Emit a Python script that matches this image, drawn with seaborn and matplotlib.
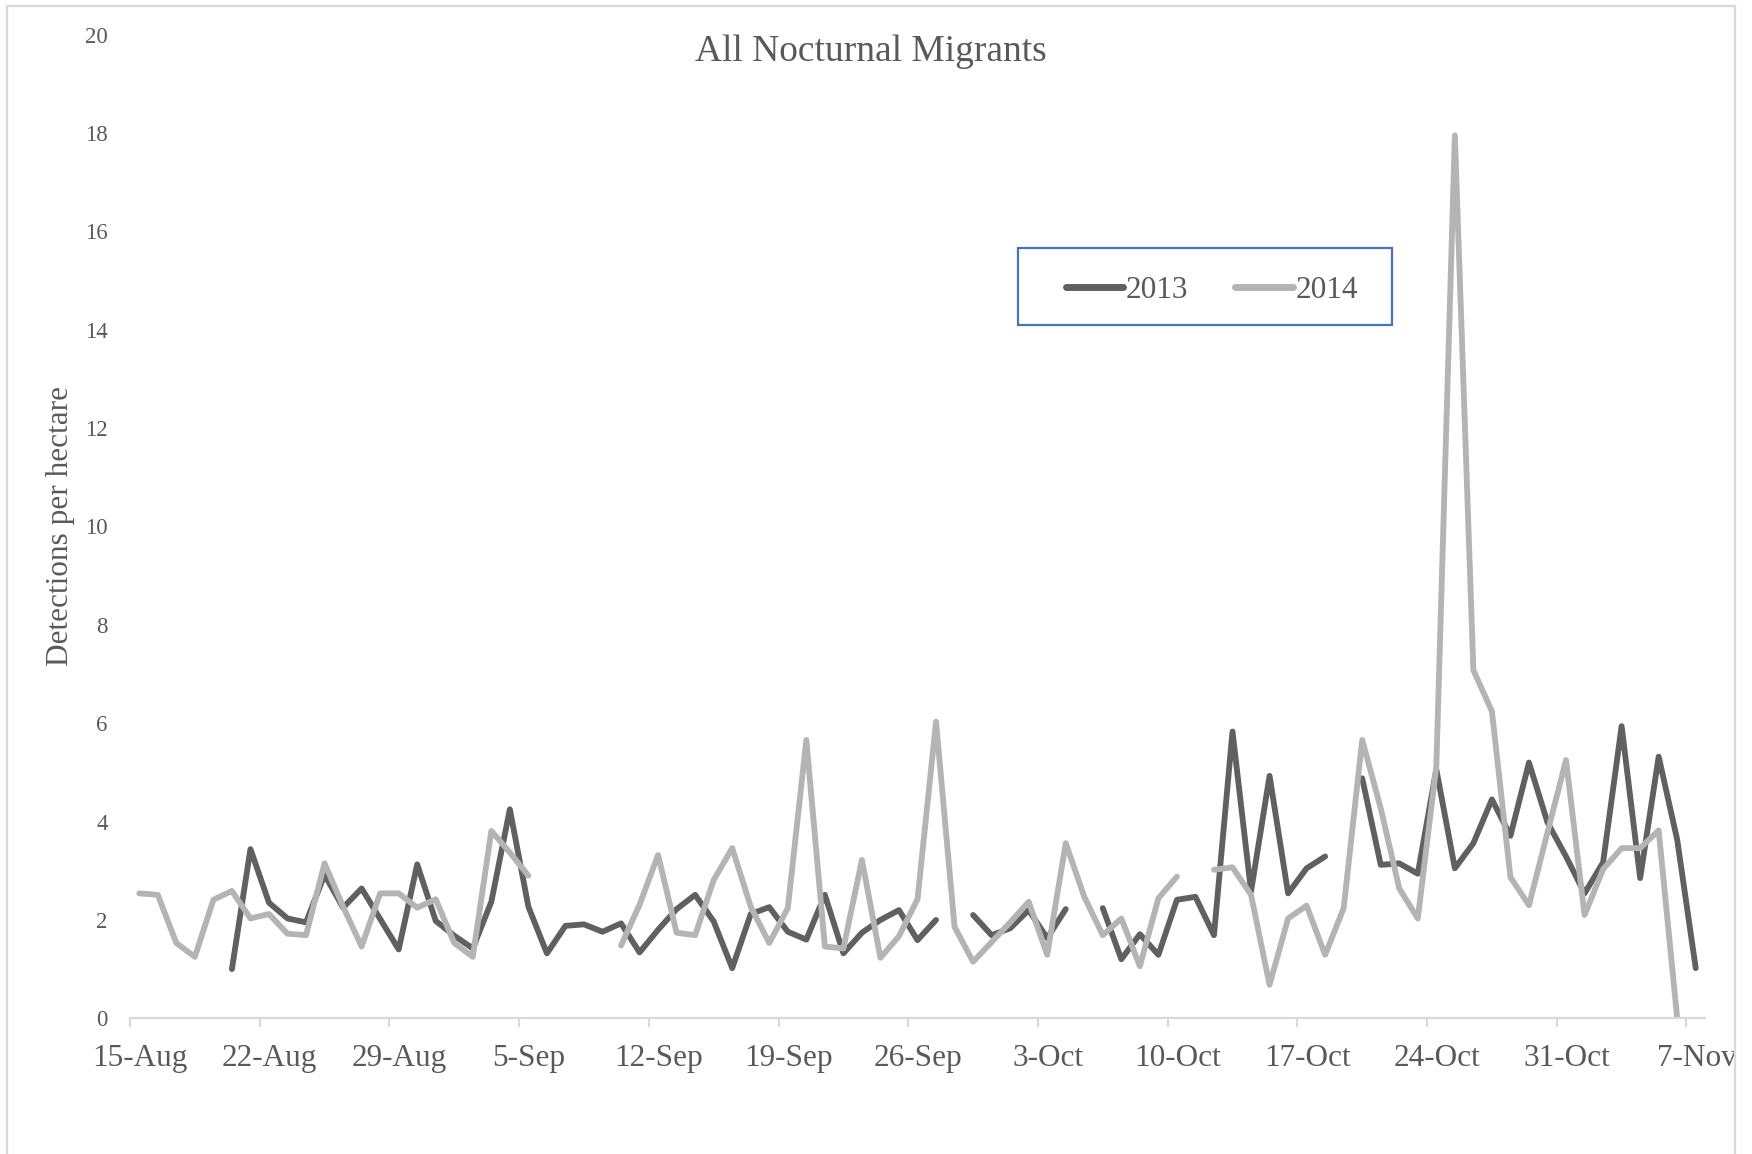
import numpy as np
import pandas as pd
import matplotlib
matplotlib.use("Agg")
import matplotlib.pyplot as plt
import matplotlib.dates as mdates
import matplotlib.transforms as mtransforms
from matplotlib.patches import Rectangle
import seaborn as sns

# --- data: detections per hectare, one value per night from 15-Aug (NaN = no survey) ---
start_date = "2014-08-15"
n_days = 85
years = ["2013", "2014"]

det_2013 = [
    np.nan, np.nan, np.nan, np.nan, np.nan, 1.00, 3.44, 2.35, 2.03, 1.95,
    2.92, 2.25, 2.64, 2.02, 1.40, 3.13, 1.98, 1.68, 1.42, 2.37,
    4.25, 2.27, 1.32, 1.88, 1.91, 1.76, 1.93, 1.34, 1.80, 2.22,
    2.51, 1.97, 1.02, 2.12, 2.26, 1.76, 1.60, 2.51, 1.32, 1.74,
    2.00, 2.20, 1.59, 2.00, np.nan, 2.10, 1.69, 1.83, 2.20, 1.63,
    2.22, np.nan, 2.24, 1.20, 1.71, 1.29, 2.41, 2.47, 1.69, 5.83,
    2.58, 4.93, 2.54, 3.05, 3.29, np.nan, 4.88, 3.12, 3.15, 2.94,
    5.06, 3.05, 3.56, 4.45, 3.71, 5.20, 3.98, 3.29, 2.54, 3.17,
    5.94, 2.85, 5.32, 3.63, 1.02,
]

det_2014 = [
    2.54, 2.51, 1.53, 1.25, 2.41, 2.59, 2.03, 2.12, 1.72, 1.69,
    3.15, 2.27, 1.46, 2.54, 2.54, 2.25, 2.42, 1.53, 1.25, 3.81,
    3.37, 2.90, np.nan, np.nan, np.nan, np.nan, 1.48, 2.31, 3.32, 1.74,
    1.69, 2.81, 3.46, 2.27, 1.53, 2.24, 5.66, 1.46, 1.42, 3.22,
    1.23, 1.67, 2.42, 6.03, 1.86, 1.15, 1.55, 1.95, 2.37, 1.29,
    3.56, 2.47, 1.69, 2.03, 1.06, 2.44, 2.88, np.nan, 3.02, 3.07,
    2.51, 0.68, 2.03, 2.29, 1.29, 2.24, 5.66, 4.27, 2.64, 2.03,
    5.12, 17.95, 7.08, 6.24, 2.87, 2.30, 3.78, 5.25, 2.10, 3.03,
    3.46, 3.46, 3.82, 0.00, np.nan,
]

colors = {"2013": "#606060", "2014": "#b4b4b4"}
text_color = "#595959"

# --- build long table; each unbroken run gets its own unit so gaps stay gaps ---
days = pd.date_range(start_date, periods=n_days, freq="D") + pd.Timedelta(hours=12)
frames = []
for yr, vals in zip(years, [det_2013, det_2014]):
    s = pd.Series(vals, dtype=float)
    seg = s.isna().cumsum()
    frames.append(pd.DataFrame({"date": days, "value": s, "year": yr,
                                "seg": yr + "_" + seg.astype(str)}))
df = pd.concat(frames).dropna(subset=["value"])

# --- plot ---
sns.set_style("white")
plt.rcParams["font.family"] = ["Liberation Serif", "DejaVu Serif"]

fig = plt.figure(figsize=(17.52, 11.54), dpi=100)
ax = fig.add_axes([130 / 1752, 1 - 1018.3 / 1154, 1575 / 1752, 983.7 / 1154])

sns.lineplot(data=df, x="date", y="value", hue="year", hue_order=years,
             units="seg", estimator=None, palette=colors, linewidth=4.2,
             solid_capstyle="round", solid_joinstyle="round", ax=ax)

ax.set_xlim(pd.Timestamp("2014-08-15"), pd.Timestamp("2014-11-08"))
ax.set_ylim(0, 20)
ax.set_yticks(np.arange(0, 21, 2))
ax.set_xticks(pd.date_range("2014-08-15", "2014-11-07", freq="7D"))
ax.xaxis.set_major_formatter(mdates.DateFormatter("%-d-%b"))

for side in ["top", "right", "left"]:
    ax.spines[side].set_visible(False)
ax.spines["bottom"].set_color("#d9d9d9")
ax.spines["bottom"].set_linewidth(1.6)
ax.tick_params(axis="x", colors="#d9d9d9", width=1.6, length=6.5, pad=12,
               labelsize=22.5, labelcolor=text_color, direction="out", bottom=True)
ax.tick_params(axis="y", length=0, pad=16, labelsize=16.5, labelcolor=text_color)
ax.grid(False)

ax.set_xlabel("")
ax.set_ylabel("Detections per hectare", fontsize=22.5, color=text_color, va="center")
ax.yaxis.set_label_coords(-0.0444, 0.5)
ax.set_title("All Nocturnal Migrants", fontsize=27, color=text_color,
             x=0.4705, y=0.9742, va="center")

# chart border (light grey, runs off the bottom of the image)
border = Rectangle((7 / 1752, -0.02), 1728 / 1752, 1 - 6 / 1154 + 0.02,
                   transform=fig.transFigure, fill=False, edgecolor="#d9d9d9",
                   linewidth=1.6)
fig.patches.append(border)

# date labels sit a little right of their ticks, clipped at the border
offset = mtransforms.ScaledTranslation(10 / 100, 0, fig.dpi_scale_trans)
for lbl in ax.get_xticklabels():
    lbl.set_transform(lbl.get_transform() + offset)
    lbl.set_clip_on(True)
    lbl.set_clip_path(border)

# legend inside a blue box
box = Rectangle((1018 / 1752, 1 - 325 / 1154), 374 / 1752, 77 / 1154,
                transform=fig.transFigure, fill=False, edgecolor="#4472c4",
                linewidth=1.6)
fig.patches.append(box)
handles, labels = ax.get_legend_handles_labels()
leg = ax.legend(handles, labels, loc="center", ncol=2, frameon=False,
                bbox_to_anchor=(1212 / 1752, 1 - 290 / 1154),
                bbox_transform=fig.transFigure, fontsize=22.5,
                handlelength=1.83, handletextpad=0.1, columnspacing=1.5)
for t in leg.get_texts():
    t.set_color(text_color)
for h in leg.legend_handles:
    h.set_linewidth(5)
    h.set_solid_capstyle("round")

fig.savefig("out.png", dpi=100)
